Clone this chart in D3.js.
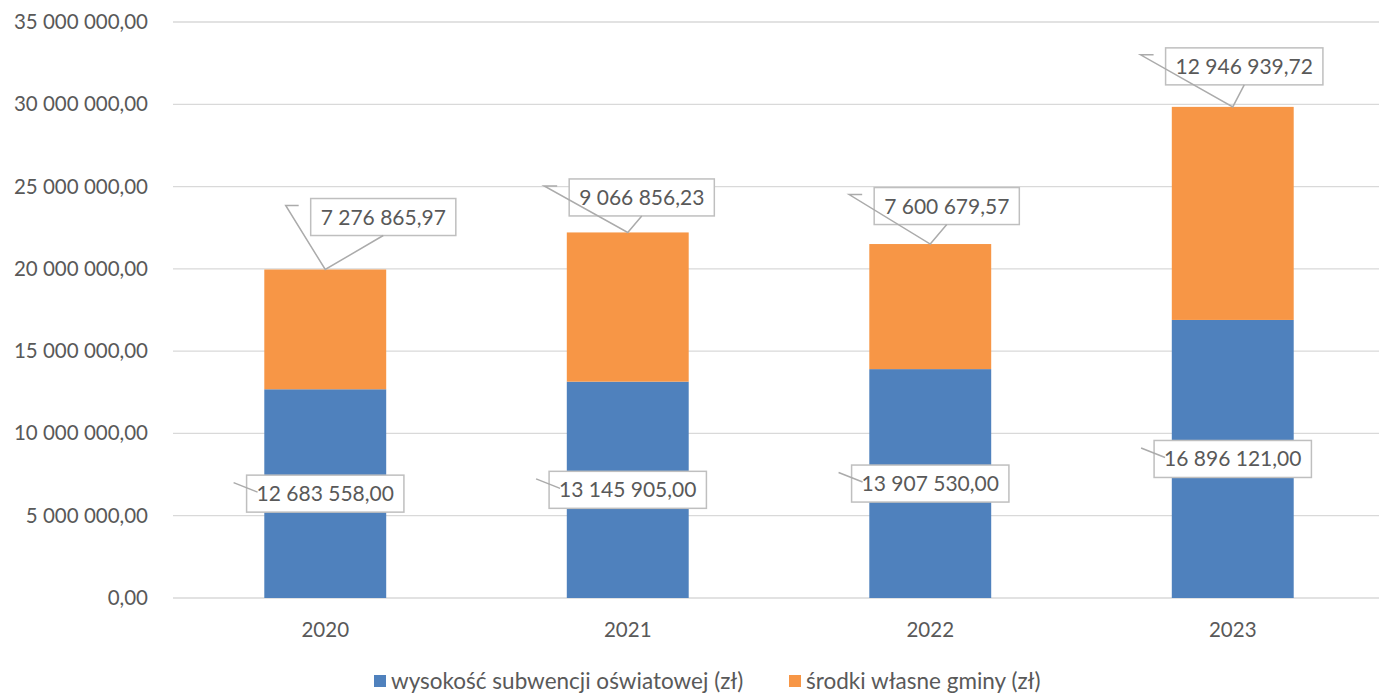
<!DOCTYPE html>
<html>
<head>
<meta charset="utf-8">
<script src="https://cdn.jsdelivr.net/npm/d3@7"></script>
<style>
  html, body { margin: 0; padding: 0; background: #fff; }
  svg { display: block; font-family: Lato, "Open Sans", sans-serif; }
</style>
</head>
<body>
<svg id="chart" width="1379" height="693"></svg>
<script>
// data
const years = ['2020', '2021', '2022', '2023'];
const subwencja = [12683558.00, 13145905.00, 13907530.00, 16896121.00];
const srodkiWlasne = [7276865.97, 9066856.23, 7600679.57, 12946939.72];
const yTicks = [0, 5000000, 10000000, 15000000, 20000000, 25000000, 30000000, 35000000];
const seriesNames = ['wysokość subwencji oświatowej (zł)', 'środki własne gminy (zł)'];

// where the orange callouts were dragged to (box centre, relative to bar top)
const calloutShift = [[58, -52.5], [14, -35], [16.5, -38], [11.5, -40.5]];

const colors = ['#4F81BD', '#F79646'];
const textColor = '#595959';

const pl = d3.formatLocale({ decimal: ',', thousands: ' ', grouping: [3], currency: ['', ''] });
const fmt = pl.format(',.2f');

const svg = d3.select('#chart');

const x = d3.scaleBand()
  .domain(years)
  .range([174, 1384])
  .paddingInner(0.597)
  .paddingOuter(0.597 / 2);

const y = d3.scaleLinear()
  .domain([0, 35000000])
  .range([598, 22]);

// gridlines
svg.append('g')
  .selectAll('line')
  .data(yTicks)
  .join('line')
  .attr('x1', 173).attr('x2', 1379)
  .attr('y1', d => y(d)).attr('y2', d => y(d))
  .attr('stroke', '#D9D9D9')
  .attr('stroke-width', 1.3);

// y axis labels
const yAxis = svg.append('g')
  .attr('transform', 'translate(148,0)')
  .call(d3.axisLeft(y).tickValues(yTicks).tickFormat(fmt).tickSize(0).tickPadding(0));
yAxis.select('.domain').remove();
yAxis.selectAll('text')
  .attr('fill', textColor)
  .style('font-family', 'Lato, sans-serif')
  .style('font-size', '20.5px');

// x axis labels
const xAxis = svg.append('g')
  .attr('transform', 'translate(0,598)')
  .call(d3.axisBottom(x).tickSize(0).tickPadding(24));
xAxis.select('.domain').remove();
xAxis.selectAll('text')
  .attr('fill', textColor)
  .style('font-family', 'Lato, sans-serif')
  .style('font-size', '20.5px');

// stacked bars
const rows = years.map((yr, i) => ({ year: yr, a: subwencja[i], b: srodkiWlasne[i], i }));
const stack = d3.stack().keys(['a', 'b'])(rows);

svg.append('g')
  .selectAll('g')
  .data(stack)
  .join('g')
  .attr('fill', (d, k) => colors[k])
  .selectAll('rect')
  .data(d => d)
  .join('rect')
  .attr('x', d => x(d.data.year))
  .attr('width', x.bandwidth())
  .attr('y', d => y(d[1]))
  .attr('height', d => y(d[0]) - y(d[1]));

// data label callouts
const labels = svg.append('g');
const boxH = 37;

function drawBox(cx, cy, txt) {
  const t = labels.append('text')
    .attr('x', cx).attr('y', cy + 7.5)
    .attr('text-anchor', 'middle')
    .attr('fill', textColor)
    .style('font-size', '21px')
    .text(txt);
  const w = t.node().getComputedTextLength() + 20;
  labels.insert('rect', 'text')
    .attr('x', cx - w / 2).attr('y', cy - boxH / 2)
    .attr('width', w).attr('height', boxH)
    .attr('fill', '#fff')
    .attr('stroke', '#BFBFBF')
    .attr('stroke-width', 1.5);
  return { left: cx - w / 2, top: cy - boxH / 2, bottom: cy + boxH / 2, w };
}

const leaders = [];

// blue series: labels centred on the segment
stack[0].forEach((d, i) => {
  const cx = x(d.data.year) + x.bandwidth() / 2;
  const cy = (y(d[0]) + y(d[1])) / 2;
  const b = drawBox(cx, cy, fmt(subwencja[i]));
  leaders.push([[b.left - 13, b.top + 7.5], [b.left + 11, b.top + 17]]);
});

// orange series: dragged callouts with leader lines to the bar top
stack[1].forEach((d, i) => {
  const ax = x(d.data.year) + x.bandwidth() / 2;
  const ay = y(d[1]);
  const cx = ax + calloutShift[i][0];
  const cy = ay + calloutShift[i][1];
  const b = drawBox(cx, cy, fmt(srodkiWlasne[i]));
  leaders.push([[cx, b.bottom], [ax, ay], [b.left - 25, b.top + 7], [b.left - 12, b.top + 7]]);
});

labels.append('g')
  .selectAll('path')
  .data(leaders)
  .join('path')
  .attr('d', d3.line())
  .attr('fill', 'none')
  .attr('stroke', '#ABABAB')
  .attr('stroke-width', 1.5);

// legend
const legend = svg.append('g');
const legendX = [374, 789];
seriesNames.forEach((name, k) => {
  legend.append('rect')
    .attr('x', legendX[k]).attr('y', 675)
    .attr('width', 12).attr('height', 12)
    .attr('fill', colors[k]);
  legend.append('text')
    .attr('x', legendX[k] + 17).attr('y', 689)
    .attr('fill', textColor)
    .style('font-size', '22.5px')
    .text(name);
});
</script>
</body>
</html>
